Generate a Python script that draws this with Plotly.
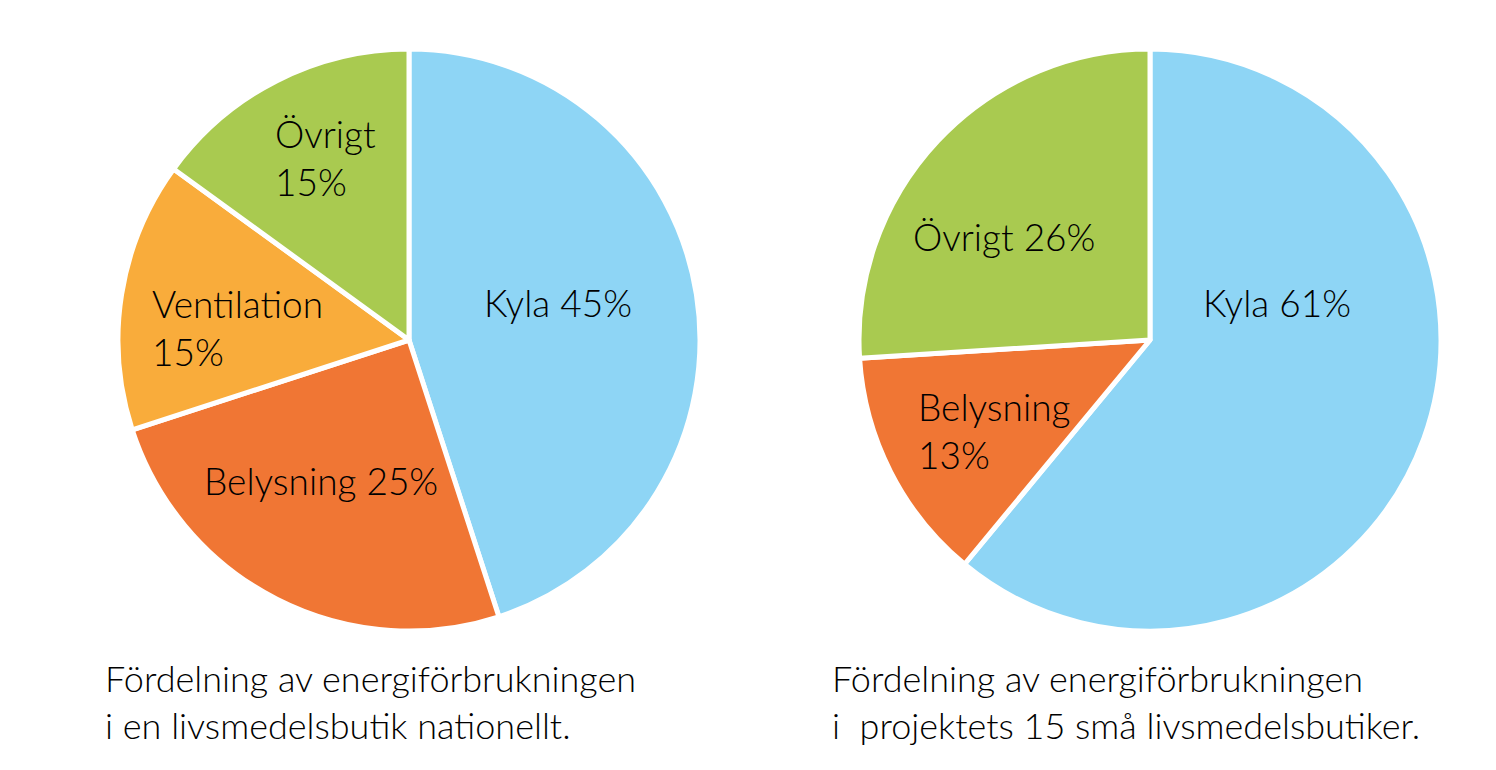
import plotly.graph_objects as go

W, H = 1496, 770

# Data
labels_left = ["Kyla", "Belysning", "Ventilation", "Övrigt"]
values_left = [45, 25, 15, 15]
labels_right = ["Kyla", "Belysning", "Övrigt"]
values_right = [61, 13, 26]

color_map = {
    "Kyla": "#8ED5F5",
    "Belysning": "#F07634",
    "Ventilation": "#F9AC3B",
    "Övrigt": "#A9CA50",
}

caption_left = "Fördelning av energiförbrukningen<br>i en livsmedelsbutik nationellt."
caption_right = "Fördelning av energiförbrukningen<br>i  projektets 15 små livsmedelsbutiker."

FONT = "Lato"
FS_LABEL = 37
FS_CAP = 36

def dom(cx, cy, r):
    return dict(x=[(cx - r) / W, (cx + r) / W], y=[1 - (cy + r) / H, 1 - (cy - r) / H])

fig = go.Figure()
fig.add_trace(go.Pie(
    labels=labels_left, values=values_left, sort=False, direction="clockwise", rotation=0,
    marker=dict(colors=[color_map[l] for l in labels_left], line=dict(color="white", width=5)),
    textinfo="none", hoverinfo="label+percent", showlegend=False,
    domain=dom(409, 340, 291),
))
fig.add_trace(go.Pie(
    labels=labels_right, values=values_right, sort=False, direction="clockwise", rotation=0,
    marker=dict(colors=[color_map[l] for l in labels_right], line=dict(color="white", width=5)),
    textinfo="none", hoverinfo="label+percent", showlegend=False,
    domain=dom(1150, 340, 291),
))

# Label placement (pixel positions, left edge and vertical center), and line break choice
place_left = {
    "Kyla": (482, 302, " "),
    "Belysning": (202, 480, " "),
    "Ventilation": (150, 328, "<br>"),
    "Övrigt": (273, 158, "<br>"),
}
place_right = {
    "Kyla": (1201, 302, " "),
    "Belysning": (916, 430, "<br>"),
    "Övrigt": (911, 236, " "),
}

annotations = []
for labels, values, place in [(labels_left, values_left, place_left), (labels_right, values_right, place_right)]:
    for l, v in zip(labels, values):
        x, y, sep = place[l]
        annotations.append(dict(
            text=f"{l}{sep}{v}%", x=x / W, y=1 - y / H, xref="paper", yref="paper",
            xanchor="left", yanchor="middle", align="left", showarrow=False,
            font=dict(family=FONT, size=FS_LABEL, color="#000000", weight=300),
        ))

for cap, x in [(caption_left, 103), (caption_right, 830)]:
    annotations.append(dict(
        text=cap, x=x / W, y=1 - 701 / H, xref="paper", yref="paper",
        xanchor="left", yanchor="middle", align="left", showarrow=False,
        font=dict(family=FONT, size=FS_CAP, color="#000000", weight=300),
    ))

fig.update_layout(
    width=W, height=H, margin=dict(l=0, r=0, t=0, b=0),
    paper_bgcolor="white", plot_bgcolor="white",
    annotations=annotations,
)

fig.write_html("out.html")
